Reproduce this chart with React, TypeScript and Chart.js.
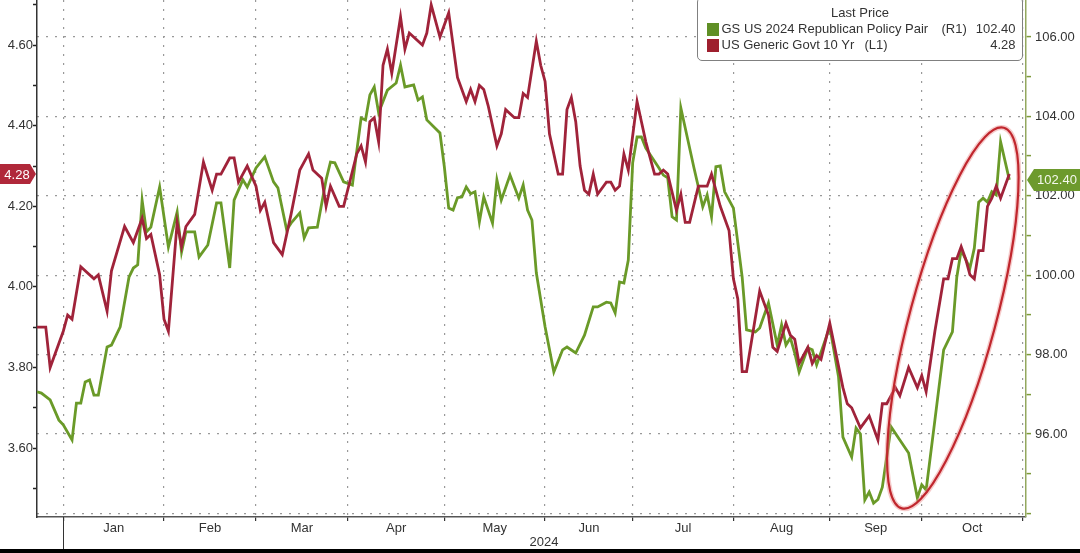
import { useEffect, useRef } from "react";
import { Chart, registerables } from "chart.js";

Chart.register(...registerables);

// x = weekday index, 0 = Fri 22 Dec 2023
const monthNames = ["Jan", "Feb", "Mar", "Apr", "May", "Jun", "Jul", "Aug", "Sep", "Oct"];
const monthStarts = [6, 29, 50, 71, 93, 116, 136, 159, 181, 202, 225];
const yearLabel = "2024";

const leftTicks = [3.5, 3.6, 3.7, 3.8, 3.9, 4.0, 4.1, 4.2, 4.3, 4.4, 4.5, 4.6, 4.7];
const rightTicks = [94, 95, 96, 97, 98, 99, 100, 101, 102, 103, 104, 105, 106];

// US Generic Govt 10 Yr (L1)
const yieldDays = [
  0, 2, 3, 6, 7, 8, 10, 13, 14, 16, 17, 20, 22, 24, 25, 26, 28, 29, 30, 32, 33, 34, 36, 38, 40, 41, 42, 44, 45, 46,
  48, 50, 51, 52, 54, 56, 58, 60, 62, 63, 65, 66, 67, 69, 70, 73, 74, 75, 76, 77, 78, 79, 80, 81, 83, 84, 85, 88, 89, 90,
  92, 94, 96, 98, 99, 100, 101, 102, 103, 105, 106, 107, 109, 110, 111, 112, 114, 115, 116, 117, 119, 120, 121, 122, 123, 124, 125, 126, 127, 128,
  130, 131, 132, 133, 134, 135, 137, 138, 139, 141, 142, 143, 144, 146, 147, 148, 149, 151, 153, 154, 156, 158, 159, 160, 161, 162, 165, 167, 168, 169,
  171, 172, 173, 174, 176, 177, 178, 179, 181, 184, 185, 186, 188, 190, 192, 193, 194, 196, 197, 199, 201, 202, 203, 205, 207, 208, 209, 210, 211, 212,
  213, 214, 215, 216, 217, 218, 219, 220, 222,
];
const yieldVals = [
  3.90, 3.90, 3.80, 3.89, 3.93, 3.92, 4.05, 4.02, 4.03, 3.94, 4.04, 4.15, 4.11, 4.17, 4.12, 4.13, 4.03, 3.92, 3.89, 4.16, 4.10, 4.15, 4.18, 4.31, 4.24, 4.28, 4.28, 4.32, 4.32, 4.26,
  4.30, 4.25, 4.19, 4.21, 4.11, 4.08, 4.18, 4.29, 4.33, 4.29, 4.27, 4.20, 4.25, 4.20, 4.20, 4.33, 4.35, 4.31, 4.41, 4.42, 4.36, 4.55, 4.59, 4.53, 4.67, 4.59, 4.63, 4.60, 4.63, 4.70,
  4.62, 4.68, 4.52, 4.46, 4.49, 4.46, 4.50, 4.49, 4.45, 4.35, 4.38, 4.44, 4.42, 4.42, 4.48, 4.47, 4.61, 4.55, 4.51, 4.38, 4.28, 4.28, 4.44, 4.47, 4.41, 4.30, 4.24, 4.23, 4.28, 4.23,
  4.26, 4.26, 4.24, 4.25, 4.33, 4.29, 4.46, 4.41, 4.36, 4.28, 4.28, 4.29, 4.28, 4.19, 4.23, 4.16, 4.16, 4.25, 4.25, 4.28, 4.20, 4.14, 4.02, 3.97, 3.79, 3.79, 3.99, 3.93, 3.85, 3.84,
  3.91, 3.88, 3.87, 3.81, 3.85, 3.81, 3.83, 3.82, 3.91, 3.75, 3.71, 3.70, 3.65, 3.68, 3.62, 3.71, 3.71, 3.75, 3.73, 3.80, 3.75, 3.78, 3.74, 3.89, 4.02, 4.02, 4.07, 4.07, 4.10, 4.07,
  4.03, 4.02, 4.09, 4.09, 4.20, 4.22, 4.25, 4.22, 4.28,
];

// GS US 2024 Republican Policy Pair (R1)
const pairDays = [
  0, 1, 3, 5, 6, 8, 9, 10, 11, 12, 13, 14, 16, 17, 19, 21, 22, 23, 24, 25, 26, 28, 30, 32, 33, 34, 36, 37, 39, 41,
  42, 44, 45, 47, 48, 50, 52, 54, 55, 57, 58, 60, 61, 62, 64, 66, 67, 68, 70, 72, 74, 75, 76, 77, 78, 80, 82, 83, 84, 86,
  87, 88, 89, 92, 93, 94, 95, 96, 97, 98, 99, 100, 101, 102, 104, 105, 106, 108, 110, 111, 112, 113, 114, 116, 118, 120, 121, 123, 125, 127,
  128, 130, 131, 132, 133, 134, 135, 136, 137, 138, 139, 140, 142, 143, 144, 145, 146, 147, 150, 151, 152, 153, 154, 155, 156, 157, 159, 161, 162, 164,
  165, 167, 169, 170, 171, 172, 173, 174, 176, 177, 178, 181, 183, 184, 186, 187, 188, 189, 190, 191, 192, 193, 195, 197, 199, 201, 202, 203, 205, 207,
  209, 210, 211, 213, 214, 215, 216, 217, 218, 219, 220, 222,
];
const pairVals = [
  97.06, 97.03, 96.86, 96.35, 96.23, 95.85, 96.78, 96.78, 97.31, 97.36, 96.98, 96.98, 98.19, 98.24, 98.70, 99.95, 100.18, 100.26, 101.89, 101.09, 101.21, 102.22, 100.71, 101.59, 100.58, 101.09, 101.09, 100.46, 100.76, 101.82,
  101.82, 100.18, 101.89, 102.40, 102.22, 102.70, 102.98, 102.35, 102.20, 101.14, 101.31, 101.57, 100.94, 101.19, 101.21, 102.40, 102.85, 102.83, 102.35, 102.27, 103.96, 103.91, 104.54, 104.74, 104.09, 104.66, 104.84, 105.29, 104.74, 104.79,
  104.41, 104.49, 103.91, 103.58, 102.73, 101.69, 101.64, 101.95, 101.97, 102.22, 102.05, 102.10, 101.34, 101.97, 101.31, 102.40, 101.89, 102.52, 101.94, 102.27, 101.64, 101.39, 100.06, 98.70, 97.56, 98.12, 98.19, 98.04, 98.49, 99.20,
  99.20, 99.32, 99.30, 99.05, 99.83, 99.80, 100.38, 102.83, 103.48, 103.48, 103.20, 103.03, 102.70, 102.52, 102.45, 101.47, 101.39, 104.21, 102.70, 102.22, 101.72, 102.02, 101.47, 102.73, 102.75, 102.10, 101.69, 99.95, 98.62, 98.57,
  98.67, 99.30, 98.24, 98.75, 98.24, 98.42, 98.04, 97.56, 98.17, 98.12, 97.74, 98.70, 97.44, 95.92, 95.42, 96.15, 96.00, 94.34, 94.54, 94.26, 94.35, 94.66, 96.18, 95.85, 95.52, 94.39, 94.72, 94.59, 96.35, 98.12,
  98.57, 99.95, 100.63, 100.18, 100.68, 101.84, 101.94, 101.84, 102.10, 102.02, 103.36, 102.40,
];

const lastYield = 4.28;
const lastPair = 102.4;

const RED = "#a0233a";
const GREEN = "#6a9a28";
const FONT = '"Liberation Sans", Arial, sans-serif';

const monthMids = monthNames.map((_, i) => (monthStarts[i] + monthStarts[i + 1]) / 2);

const overlay = {
  id: "overlay",
  afterDatasetsDraw(chart: any) {
    const { ctx, scales } = chart;
    // hand-drawn ring around the last weeks
    const cx = scales.x.getPixelForValue(209.1);
    const cy = scales.yR.getPixelForValue(98.92);
    ctx.save();
    ctx.beginPath();
    ctx.ellipse(cx, cy, 197, 43, (-75 * Math.PI) / 180, 0, Math.PI * 2);
    ctx.strokeStyle = "rgba(235,140,140,0.45)";
    ctx.lineWidth = 5;
    ctx.stroke();
    ctx.strokeStyle = "#c0262d";
    ctx.lineWidth = 2.2;
    ctx.stroke();
    ctx.restore();
  },
  afterDraw(chart: any) {
    const { ctx, scales, chartArea } = chart;
    ctx.save();
    // year separator under Jan 1
    const xj = Math.round(scales.x.getPixelForValue(monthStarts[0])) + 0.5;
    ctx.strokeStyle = "#333";
    ctx.lineWidth = 1;
    ctx.beginPath();
    ctx.moveTo(xj, chartArea.bottom);
    ctx.lineTo(xj, chart.height);
    ctx.stroke();

    ctx.font = `13px ${FONT}`;
    ctx.textAlign = "center";
    ctx.textBaseline = "middle";

    const cl = scales.yL.getPixelForValue(lastYield);
    ctx.fillStyle = "#b0283a";
    ctx.beginPath();
    ctx.moveTo(0, cl - 10);
    ctx.lineTo(30, cl - 10);
    ctx.lineTo(36, cl);
    ctx.lineTo(30, cl + 10);
    ctx.lineTo(0, cl + 10);
    ctx.closePath();
    ctx.fill();
    ctx.fillStyle = "#fff";
    ctx.fillText(lastYield.toFixed(2), 17, cl + 1);

    const cr = scales.yR.getPixelForValue(lastPair);
    const xr = chartArea.right;
    ctx.fillStyle = "#6d9a2d";
    ctx.beginPath();
    ctx.moveTo(xr + 1, cr);
    ctx.lineTo(xr + 8, cr - 11);
    ctx.lineTo(chart.width, cr - 11);
    ctx.lineTo(chart.width, cr + 11);
    ctx.lineTo(xr + 8, cr + 11);
    ctx.closePath();
    ctx.fill();
    ctx.fillStyle = "#f4f8ee";
    ctx.fillText(lastPair.toFixed(2), 1057, cr + 1);
    ctx.restore();
  },
};

export default function App() {
  const ref = useRef<HTMLCanvasElement | null>(null);
  const chartRef = useRef<Chart | null>(null);

  useEffect(() => {
    if (!ref.current) return;
    chartRef.current?.destroy();
    Chart.defaults.font.family = FONT;
    Chart.defaults.font.size = 13;
    Chart.defaults.color = "#333";

    const startSet = new Set(monthStarts);
    const dash = [2, 7];

    chartRef.current = new Chart(ref.current, {
      type: "line",
      data: {
        datasets: [
          {
            label: "US Generic Govt 10 Yr (L1)",
            data: yieldDays.map((d, i) => ({ x: d, y: yieldVals[i] })),
            yAxisID: "yL",
            borderColor: RED,
            borderWidth: 2.8,
            pointRadius: 0,
            tension: 0,
          },
          {
            label: "GS US 2024 Republican Policy Pair (R1)",
            data: pairDays.map((d, i) => ({ x: d, y: pairVals[i] })),
            yAxisID: "yR",
            borderColor: GREEN,
            borderWidth: 2.8,
            pointRadius: 0,
            tension: 0,
          },
        ],
      },
      options: {
        animation: false,
        responsive: true,
        maintainAspectRatio: false,
        layout: { padding: 0 },
        plugins: { legend: { display: false }, tooltip: { enabled: false } },
        scales: {
          x: {
            type: "linear",
            min: 0,
            max: 225.8,
            afterBuildTicks: (s: any) => {
              s.ticks = [...monthStarts, ...monthMids].sort((a, b) => a - b).map((v) => ({ value: v }));
            },
            afterFit: (s: any) => {
              s.height = 32;
              s.paddingLeft = 0;
              s.paddingRight = 0;
            },
            grid: {
              color: (c: any) => (c.tick && startSet.has(c.tick.value) ? "#999" : "transparent"),
              tickColor: (c: any) => (c.tick && startSet.has(c.tick.value) ? "#333" : "transparent"),
              lineWidth: 1.2,
              tickWidth: 1.2,
              tickLength: 4,
            },
            border: { color: "#555", width: 1.5, dash },
            ticks: {
              autoSkip: false,
              maxRotation: 0,
              padding: 0,
              callback: (v: any) => {
                const i = monthMids.indexOf(Number(v));
                return i >= 0 ? monthNames[i] : "";
              },
            },
          },
          yL: {
            type: "linear",
            position: "left",
            min: 3.429,
            max: 4.712,
            afterBuildTicks: (s: any) => {
              s.ticks = leftTicks.map((v) => ({ value: v }));
            },
            afterFit: (s: any) => {
              s.width = 37;
              s.paddingTop = 0;
              s.paddingBottom = 0;
            },
            grid: { drawOnChartArea: false, tickColor: "#222", tickLength: 4, tickWidth: 1.5 },
            border: { color: "#333", width: 1.5 },
            ticks: {
              autoSkip: false,
              padding: 0,
              callback: (v: any) => (Math.round(Number(v) * 10) % 2 === 0 ? Number(v).toFixed(2) : ""),
            },
          },
          yR: {
            type: "linear",
            position: "right",
            min: 93.91,
            max: 106.93,
            afterBuildTicks: (s: any) => {
              s.ticks = rightTicks.map((v) => ({ value: v }));
            },
            afterFit: (s: any) => {
              s.width = 54;
              s.paddingTop = 0;
              s.paddingBottom = 0;
            },
            grid: {
              color: (c: any) => (c.tick && c.tick.value % 2 === 0 ? "#999" : "transparent"),
              lineWidth: 1.2,
              tickColor: "#7d9a3a",
              tickWidth: 1.5,
              tickLength: 5,
            },
            border: { color: "#93a85f", width: 1.5, dash },
            ticks: {
              autoSkip: false,
              padding: 4,
              callback: (v: any) => (Number(v) % 2 === 0 && Number(v) > 94 ? Number(v).toFixed(2) : ""),
            },
          },
        },
      },
      plugins: [overlay],
    } as any);
    return () => chartRef.current?.destroy();
  }, []);

  const text = { font: `13px ${FONT}`, color: "#333", lineHeight: "15px", whiteSpace: "nowrap" as const };

  return (
    <div style={{ position: "fixed", left: 0, top: 0, width: 1080, height: 553, background: "#000", overflow: "hidden" }}>
      <div style={{ position: "absolute", left: 0, top: 0, width: 1080, height: 549, background: "#fff" }}>
        <canvas ref={ref} />
      </div>
      <div
        style={{
          position: "absolute",
          left: 697,
          top: -3,
          width: 326,
          height: 64,
          boxSizing: "border-box",
          border: "1.5px solid #808080",
          borderRadius: 5,
          background: "#fff",
          ...text,
        }}
      >
        <div style={{ position: "absolute", top: 7, left: 0, right: 0, textAlign: "center" }}>Last Price</div>
        <div style={{ position: "absolute", left: 8.5, top: 24.5, width: 12, height: 13, background: "#5f8f25" }} />
        <div style={{ position: "absolute", left: 23.5, top: 23 }}>GS US 2024 Republican Policy Pair</div>
        <div style={{ position: "absolute", left: 243.5, top: 23 }}>(R1)</div>
        <div style={{ position: "absolute", right: 6.5, top: 23 }}>{lastPair.toFixed(2)}</div>
        <div style={{ position: "absolute", left: 8.5, top: 40.5, width: 12, height: 13, background: "#9e1f2e" }} />
        <div style={{ position: "absolute", left: 23.5, top: 39 }}>US Generic Govt 10 Yr</div>
        <div style={{ position: "absolute", left: 166.5, top: 39 }}>(L1)</div>
        <div style={{ position: "absolute", right: 6.5, top: 39 }}>{lastYield.toFixed(2)}</div>
      </div>
      <div style={{ position: "absolute", left: 514, top: 534, width: 60, textAlign: "center", ...text }}>{yearLabel}</div>
    </div>
  );
}
